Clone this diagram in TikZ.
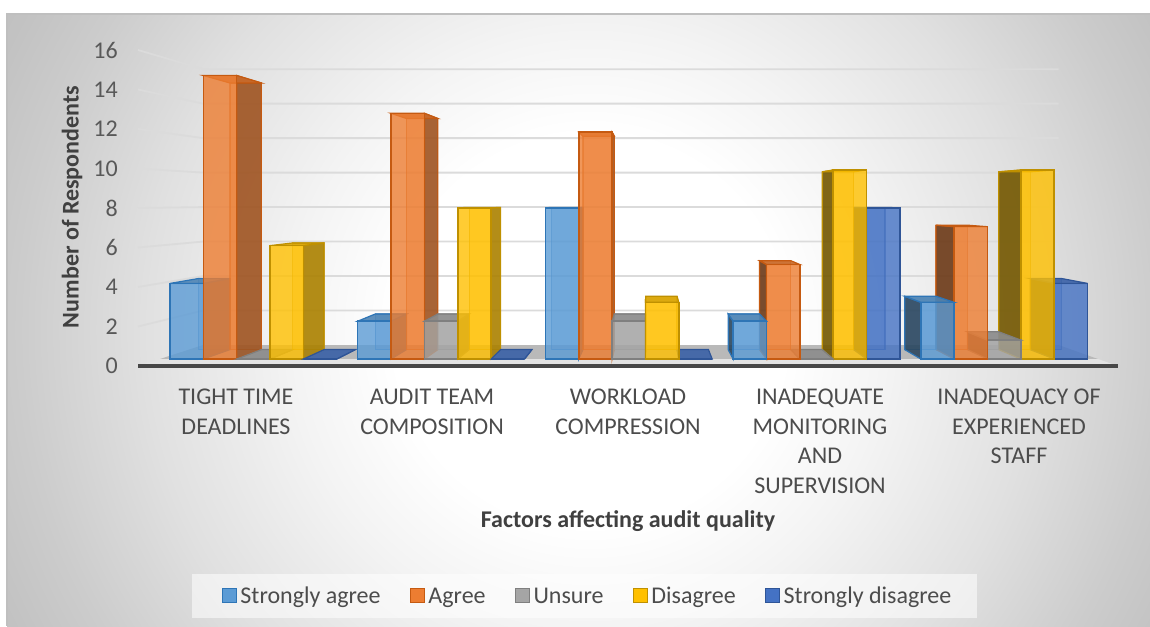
\documentclass[tikz,border=0pt]{standalone}
\usepackage{fontspec}
\setmainfont{Carlito}
\usepackage{tikz}
\usetikzlibrary{calc,positioning}
\usepackage{xcolor}

\definecolor{sagree}{HTML}{5B9BD5}
\definecolor{sagreeln}{HTML}{2E75B6}
\definecolor{agree}{HTML}{ED7D31}
\definecolor{agreeln}{HTML}{C55A11}
\definecolor{unsure}{HTML}{A5A5A5}
\definecolor{unsureln}{HTML}{7F7F7F}
\definecolor{disagree}{HTML}{FFC000}
\definecolor{disagreeln}{HTML}{BF9000}
\definecolor{sdisagree}{HTML}{4472C4}
\definecolor{sdisagreeln}{HTML}{2F5597}

\pgfdeclareradialshading{chartbg}{\pgfpoint{0bp}{0bp}}{color(0bp)=(white); color(7bp)=(white); color(10.7bp)=(gray!9); color(15.9bp)=(gray!24); color(20.4bp)=(gray!40); color(23.2bp)=(gray!48); color(25bp)=(gray!50); color(50bp)=(gray!50)}

\newcommand{\chartfont}{\fontsize{24}{29.5}\selectfont}

% one 3d column: group, slot, value, colour, visible side (R/L)
\newcommand{\colbar}[5]{%
  \coordinate (fbl) at ({170+187.7*#1+33.35*#2},359);
  \coordinate (fbr) at ({203.35+187.7*#1+33.35*#2},359);
  \coordinate (ftl) at ({170+187.7*#1+33.35*#2},{359-18.9*#3});
  \coordinate (ftr) at ({203.35+187.7*#1+33.35*#2},{359-18.9*#3});
  \coordinate (bbl) at ($(vp)!0.9404!(fbl)$);
  \coordinate (bbr) at ($(vp)!0.9404!(fbr)$);
  \coordinate (btl) at ($(vp)!0.9404!(ftl)$);
  \coordinate (btr) at ($(vp)!0.9404!(ftr)$);
  \filldraw[back face=#4] (bbl) -- (bbr) -- (btr) -- (btl) -- cycle;
  \ifx R#5
    \filldraw[lit side=#4] (fbr) -- (ftr) -- (btr) -- (bbr) -- cycle;
  \else
    \filldraw[dark side=#4] (fbl) -- (ftl) -- (btl) -- (bbl) -- cycle;
  \fi
  \filldraw[top face=#4] (ftl) -- (ftr) -- (btr) -- (btl) -- cycle;
  \filldraw[front face=#4] (fbl) rectangle (ftr);
}

\begin{document}
\begin{tikzpicture}[x=1pt,y=-1pt,
    grid line/.style={draw=gray!28,line width=1.8pt},
    tick label/.style={anchor=east,inner sep=0pt,text=black!65,font=\chartfont},
    cat label/.style={anchor=north,align=center,inner sep=0pt,text=black!70,font=\chartfont},
    axis title/.style={inner sep=0pt,text=black!75,font=\chartfont\bfseries},
    front face/.style={fill=#1,fill opacity=0.8,draw=#1ln,line width=1.5pt},
    back face/.style={fill=#1,fill opacity=0.35,draw=#1ln,draw opacity=0.6,line width=1.2pt},
    lit side/.style={fill=#1!65!black,fill opacity=0.85,draw=#1ln,line width=1.2pt},
    dark side/.style={fill=#1!42!black,fill opacity=0.85,draw=#1ln,line width=1.2pt},
    top face/.style={fill=#1!85!black,fill opacity=0.9,draw=#1ln,line width=1.2pt},
    legend key/.style={minimum size=14pt,inner sep=0pt,fill=#1,draw=#1ln,line width=1.5pt},
    legend text/.style={inner sep=0pt,text height=15pt,text depth=0pt,text=black!70,font=\chartfont}]
  \useasboundingbox (0,0) rectangle (1150,626);

  % Background
  \begin{scope}
    \clip (7,14) rectangle (1150,626);
    \shade[shading=chartbg] (590,330) circle (700pt);
  \end{scope}
  \draw[gray!50,line width=1.5pt] (1150,14) -- (7,14) -- (7,626);

  % Walls and floor
  \coordinate (vp) at (650,201);
  \foreach \v in {2,4,...,16}
    \draw[grid line] (138,{366-19.75*\v}) -- (203,{345-17.24*\v}) -- (1058.6,{345-17.24*\v});
  \fill[gray!55] (203,345) -- (1058.6,345) -- (1097.9,359) -- (160,359) -- cycle;
  \fill[gray!22] (160,359) -- (1097.9,359) -- (1118,366) -- (138,366) -- cycle;
  \draw[black!72,line width=3.5pt] (138,366) -- (1118,366);

  % Bars, left half from the left
  \colbar{0}{0}{4}{sagree}{R}
  \colbar{0}{1}{15}{agree}{R}
  \colbar{0}{2}{0}{unsure}{R}
  \colbar{0}{3}{6}{disagree}{R}
  \colbar{0}{4}{0}{sdisagree}{R}
  \colbar{1}{0}{2}{sagree}{R}
  \colbar{1}{1}{13}{agree}{R}
  \colbar{1}{2}{2}{unsure}{R}
  \colbar{1}{3}{8}{disagree}{R}
  \colbar{1}{4}{0}{sdisagree}{R}
  \colbar{2}{0}{8}{sagree}{R}
  \colbar{2}{1}{12}{agree}{R}
  \colbar{2}{2}{2}{unsure}{R}
  % Bars, right half from the right
  \colbar{4}{4}{4}{sdisagree}{L}
  \colbar{4}{3}{10}{disagree}{L}
  \colbar{4}{2}{1}{unsure}{L}
  \colbar{4}{1}{7}{agree}{L}
  \colbar{4}{0}{3}{sagree}{L}
  \colbar{3}{4}{8}{sdisagree}{L}
  \colbar{3}{3}{10}{disagree}{L}
  \colbar{3}{2}{0}{unsure}{L}
  \colbar{3}{1}{5}{agree}{L}
  \colbar{3}{0}{2}{sagree}{L}
  \colbar{2}{4}{0}{sdisagree}{L}
  \colbar{2}{3}{3}{disagree}{L}

  % Axis labels
  \foreach \v in {0,2,...,16}
    \node[tick label] (tick\v) at (118,{366-19.75*\v}) {\v};
  \node[cat label] (cat1) at (236,389) {TIGHT TIME\\DEADLINES};
  \node[cat label] (cat2) at (432,389) {AUDIT TEAM\\COMPOSITION};
  \node[cat label] (cat3) at (628,389) {WORKLOAD\\COMPRESSION};
  \node[cat label] (cat4) at (820,389) {INADEQUATE\\MONITORING\\AND\\SUPERVISION};
  \node[cat label] (cat5) at (1019,389) {INADEQUACY OF\\EXPERIENCED\\STAFF};
  \node[axis title,rotate=90] (ytitle) at (72,207) {Number of Respondents};
  \node[axis title] (xtitle) at (628,521) {Factors affecting audit quality};

  % Legend
  \fill[white,fill opacity=0.55] (192,574) rectangle (977,618);
  \node[legend key=sagree] (key1) at (229.5,595.5) {};
  \node[legend text,right=3pt of key1] (lab1) {Strongly agree};
  \node[legend key=agree,right=29pt of lab1] (key2) {};
  \node[legend text,right=3pt of key2] (lab2) {Agree};
  \node[legend key=unsure,right=29pt of lab2] (key3) {};
  \node[legend text,right=3pt of key3] (lab3) {Unsure};
  \node[legend key=disagree,right=29pt of lab3] (key4) {};
  \node[legend text,right=3pt of key4] (lab4) {Disagree};
  \node[legend key=sdisagree,right=29pt of lab4] (key5) {};
  \node[legend text,right=3pt of key5] (lab5) {Strongly disagree};
\end{tikzpicture}
\end{document}
